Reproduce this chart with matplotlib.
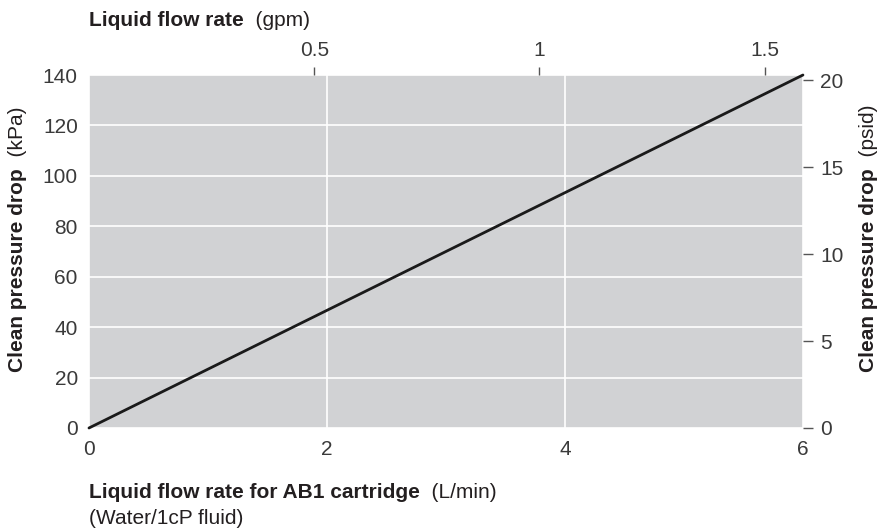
import numpy as np
import matplotlib
matplotlib.use("Agg")
import matplotlib.pyplot as plt

plt.rcParams['font.family'] = ['Liberation Sans', 'DejaVu Sans']

# data
flow_lpm = [0, 6]
dp_kpa = [0, 140]
x_ticks = [0, 2, 4, 6]
y_ticks = [0, 20, 40, 60, 80, 100, 120, 140]
gpm_ticks = [0.5, 1, 1.5]
psi_ticks = [0, 5, 10, 15, 20]
LPM_PER_GPM = 3.785411784
KPA_PER_PSI = 6.894757

txt = '#231f20'
tickc = '#3a3a3a'
tfs = 15

fig = plt.figure(figsize=(8.81, 5.32), dpi=100)
ax = fig.add_axes([0.101, 0.1955, 0.8104, 0.6635])
ax.set_facecolor('#d1d2d4')
for s in ax.spines.values():
    s.set_visible(False)
ax.set_xlim(0, 6)
ax.set_ylim(0, 140)
ax.set_xticks(x_ticks)
ax.set_yticks(y_ticks)
ax.grid(True, color='white', linewidth=1.2)
ax.set_axisbelow(True)
ax.tick_params(length=0, labelsize=tfs, labelcolor=tickc)
ax.tick_params(axis='x', pad=9)
ax.tick_params(axis='y', pad=8)
ax.plot(flow_lpm, dp_kpa, color='#1a1a1a', linewidth=2, solid_capstyle='round', clip_on=False)

# top axis (gpm)
axt = ax.twiny()
axt.set_xlim(0, 6)
axt.set_xticks([g * LPM_PER_GPM for g in gpm_ticks])
axt.set_xticklabels(['0.5', '1', '1.5'])
axt.tick_params(axis='x', direction='out', length=6, width=1, color='#555555',
                labelsize=tfs, labelcolor=tickc, pad=5)
for s in axt.spines.values():
    s.set_visible(False)

# right axis (psid)
axr = ax.twinx()
axr.set_ylim(0, 140)
axr.set_yticks([p * KPA_PER_PSI for p in psi_ticks])
axr.set_yticklabels([str(p) for p in psi_ticks])
axr.tick_params(axis='y', direction='out', length=7.5, width=1, color='#555555',
                labelsize=tfs, labelcolor=tickc, pad=5)
for s in axr.spines.values():
    s.set_visible(False)

# labels with bold + normal parts
fs = 15
t1 = fig.text(89/881, 1-20/532, 'Liquid flow rate', fontsize=fs, fontweight='bold',
              color=txt, va='center', ha='left')
ax.annotate('  (gpm)', xy=(1, 0), xycoords=t1, va='bottom', ha='left',
            fontsize=fs, color=txt, annotation_clip=False)

t2 = fig.text(89/881, 1-493/532, 'Liquid flow rate for AB1 cartridge', fontsize=fs,
              fontweight='bold', color=txt, va='center', ha='left')
ax.annotate('  (L/min)', xy=(1, 0), xycoords=t2, va='bottom', ha='left',
            fontsize=fs, color=txt, annotation_clip=False)
fig.text(89/881, 1-518/532, '(Water/1cP fluid)', fontsize=fs, color=txt,
         va='center', ha='left')

t3 = fig.text(18/881, 1-372/532, 'Clean pressure drop', fontsize=fs, fontweight='bold',
              color=txt, va='bottom', ha='center', rotation=90)
ax.annotate('  (kPa)', xy=(0, 1), xycoords=t3, va='bottom', ha='left',
            fontsize=fs, color=txt, rotation=90, annotation_clip=False)

t4 = fig.text(868/881, 1-372/532, 'Clean pressure drop', fontsize=fs, fontweight='bold',
              color=txt, va='bottom', ha='center', rotation=90)
ax.annotate('  (psid)', xy=(0, 1), xycoords=t4, va='bottom', ha='left',
            fontsize=fs, color=txt, rotation=90, annotation_clip=False)

fig.savefig('out.png', dpi=100)
